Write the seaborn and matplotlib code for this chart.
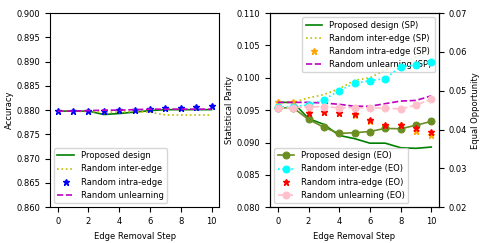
import numpy as np
import pandas as pd
import matplotlib
matplotlib.use("Agg")
import matplotlib.pyplot as plt
import seaborn as sns

steps = list(range(11))

# Accuracy (left panel)
acc_proposed = [0.8798, 0.8798, 0.8798, 0.8791, 0.8793, 0.8796, 0.8799, 0.8801, 0.8801, 0.8801, 0.8801]
acc_inter = [0.8798, 0.8798, 0.8797, 0.8796, 0.8796, 0.8797, 0.8796, 0.8790, 0.8790, 0.8790, 0.8790]
acc_intra = [0.8798, 0.8798, 0.8799, 0.8799, 0.8800, 0.8801, 0.8803, 0.8805, 0.8805, 0.8806, 0.8808]
acc_unlearn = [0.8798, 0.8798, 0.8799, 0.8800, 0.8800, 0.8801, 0.8802, 0.8802, 0.8802, 0.8802, 0.8802]

# Statistical parity (right panel, left axis)
sp_proposed = [0.0962, 0.0962, 0.0937, 0.0928, 0.0911, 0.0906, 0.0899, 0.0899, 0.0892, 0.0891, 0.0893]
sp_inter = [0.0962, 0.0962, 0.0969, 0.0974, 0.0983, 0.0996, 0.1000, 0.1012, 0.1022, 0.1032, 0.1042]
sp_intra = [0.0962, 0.0962, 0.0946, 0.0947, 0.0945, 0.0943, 0.0934, 0.0926, 0.0927, 0.0918, 0.0911]
sp_unlearn = [0.0962, 0.0962, 0.0962, 0.0961, 0.0959, 0.0956, 0.0956, 0.0960, 0.0964, 0.0965, 0.0972]

# Equal opportunity (right panel, right axis)
eo_proposed = [0.0456, 0.0456, 0.0426, 0.0406, 0.0390, 0.0392, 0.0395, 0.0403, 0.0402, 0.0411, 0.0421]
eo_inter = [0.0458, 0.0458, 0.0464, 0.0477, 0.0500, 0.0519, 0.0526, 0.0531, 0.0562, 0.0566, 0.0575]
eo_intra = [0.0456, 0.0456, 0.0442, 0.0445, 0.0442, 0.0439, 0.0424, 0.0412, 0.0412, 0.0405, 0.0395]
eo_unlearn = [0.0456, 0.0456, 0.0459, 0.0459, 0.0456, 0.0456, 0.0456, 0.0455, 0.0453, 0.0463, 0.0478]

FS = 6
plt.rcParams['font.size'] = FS

fig = plt.figure(figsize=(4.85, 2.43), dpi=100)
ax1 = fig.add_axes([0.103, 0.147, 0.349, 0.7995])
ax2 = fig.add_axes([0.557, 0.147, 0.348, 0.7995])
ax3 = ax2.twinx()

lw = 1.2
# Left panel
sns.lineplot(x=steps, y=acc_proposed, ax=ax1, color='green', lw=lw, label='Proposed design')
sns.lineplot(x=steps, y=acc_inter, ax=ax1, color='y', lw=lw, linestyle=':', label='Random inter-edge')
ax1.plot(steps, acc_intra, linestyle='none', marker='*', color='b', ms=5, label='Random intra-edge')
sns.lineplot(x=steps, y=acc_unlearn, ax=ax1, color='m', lw=lw, linestyle='--', label='Random unlearning')
ax1.set_ylim(0.86, 0.90)
ax1.set_yticks(np.arange(0.86, 0.9001, 0.005))
ax1.set_xticks([0, 2, 4, 6, 8, 10])
ax1.set_xlim(-0.5, 10.5)
ax1.set_ylabel('Accuracy', fontsize=FS, labelpad=2)
ax1.set_xlabel('Edge Removal Step', fontsize=FS)
ax1.tick_params(labelsize=FS)
ax1.legend(loc='lower left', fontsize=FS)

# Right panel - SP
sns.lineplot(x=steps, y=sp_proposed, ax=ax2, color='green', lw=lw, label='Proposed design (SP)')
sns.lineplot(x=steps, y=sp_inter, ax=ax2, color='y', lw=lw, linestyle=':', label='Random inter-edge (SP)')
ax2.plot(steps, sp_intra, linestyle='none', marker='*', color='orange', ms=5, label='Random intra-edge (SP)')
sns.lineplot(x=steps, y=sp_unlearn, ax=ax2, color='m', lw=lw, linestyle='--', label='Random unlearning (SP)')
ax2.set_ylim(0.08, 0.11)
ax2.set_yticks(np.arange(0.08, 0.1101, 0.005))
ax2.set_xticks([0, 2, 4, 6, 8, 10])
ax2.set_xlim(-0.5, 10.5)
ax2.set_ylabel('Statistical Parity', fontsize=FS, labelpad=2)
ax2.set_xlabel('Edge Removal Step', fontsize=FS)
ax2.tick_params(labelsize=FS)
ax2.legend(loc='upper right', fontsize=FS)

# Right panel - EO
sns.lineplot(x=steps, y=eo_proposed, ax=ax3, color='olivedrab', lw=lw, marker='o', ms=5, mec='olivedrab', label='Proposed design (EO)')
sns.lineplot(x=steps, y=eo_inter, ax=ax3, color='cyan', lw=lw, linestyle=':', marker='o', ms=5, mec='cyan', label='Random inter-edge (EO)')
ax3.plot(steps, eo_intra, linestyle='none', marker='*', color='red', ms=5, label='Random intra-edge (EO)')
sns.lineplot(x=steps, y=eo_unlearn, ax=ax3, color='pink', lw=lw, linestyle='--', marker='o', ms=5, mec='pink', label='Random unlearning (EO)')
ax3.set_ylim(0.02, 0.07)
ax3.set_yticks(np.arange(0.02, 0.0701, 0.01))
ax3.set_ylabel('Equal Opportunity', fontsize=FS, labelpad=3)
ax3.tick_params(labelsize=FS)
ax3.legend(loc='lower left', fontsize=FS)

fig.savefig('out.png', dpi=100)
